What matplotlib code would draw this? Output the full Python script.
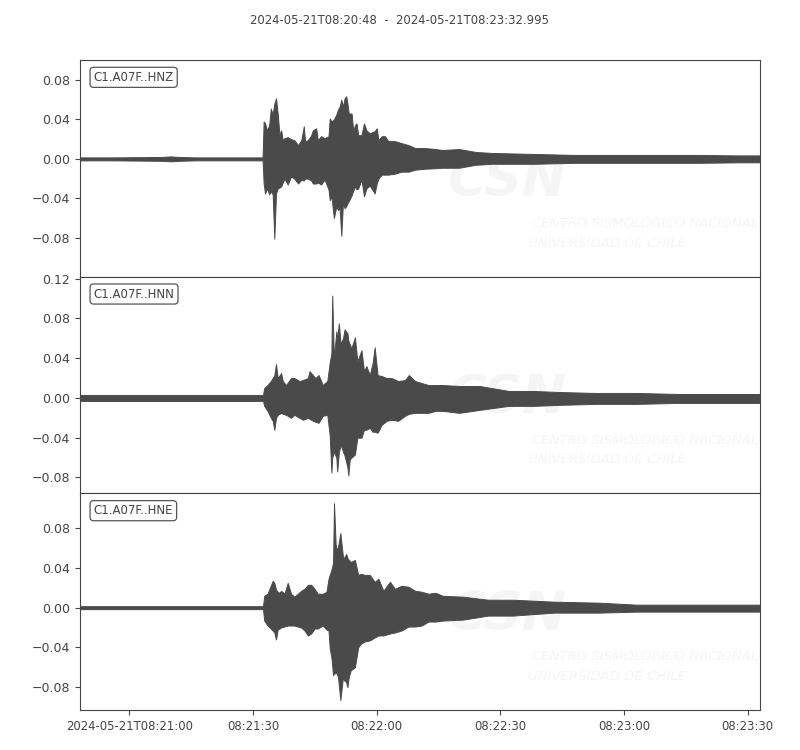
import matplotlib
matplotlib.use("Agg")
import matplotlib.pyplot as plt
import numpy as np

START = np.datetime64("2024-05-21T08:20:48.000")
TITLE = "2024-05-21T08:20:48  -  2024-05-21T08:23:32.995"

channels = ["C1.A07F..HNZ", "C1.A07F..HNN", "C1.A07F..HNE"]

# envelope of each trace (seconds after START, upper and lower peak values)
hnz_t = [0, 8, 16, 20, 22, 24, 28, 36, 44.3,
         44.56, 44.9, 45.4, 45.9, 46.3, 46.75, 47.15, 47.56, 47.97, 48.4,
         48.8, 49.2, 49.6, 50.4, 51.2, 52.0, 52.9, 53.7, 54.3, 54.6,
         55.3, 56.1, 56.5, 57.3, 57.7, 58.5, 59.35, 60.3, 60.6, 61.0,
         61.6, 62.2, 62.6, 63.0, 63.4, 63.8, 64.2, 64.6, 64.9, 65.2,
         65.9, 66.3, 66.7, 67.1, 67.5, 68.3, 68.9, 69.5, 70.3, 71.5,
         72.0, 72.4, 73.2, 74.0, 74.8, 76.4, 78.0, 79.7, 81.3, 83.7,
         86.2, 88, 92, 96, 100, 110, 120, 130, 140, 150,
         160, 164.995]
hnz_up = [0.0015, 0.0015, 0.0018, 0.002, 0.0025, 0.002, 0.0015, 0.0015, 0.0015,
          0.038, 0.036, 0.029, 0.034, 0.051, 0.045, 0.056, 0.0615, 0.046, 0.024,
          0.029, 0.019, 0.021, 0.022, 0.020, 0.019, 0.014, 0.019, 0.033, 0.018,
          0.019, 0.024, 0.029, 0.031, 0.019, 0.023, 0.021, 0.023, 0.041, 0.038,
          0.040, 0.045, 0.050, 0.053, 0.060, 0.053, 0.0615, 0.0635, 0.056, 0.046,
          0.046, 0.028, 0.034, 0.036, 0.024, 0.024, 0.036, 0.029, 0.026, 0.028,
          0.031, 0.019, 0.023, 0.023, 0.018, 0.018, 0.016, 0.014, 0.011, 0.011,
          0.010, 0.009, 0.010, 0.007, 0.006, 0.005, 0.004, 0.004, 0.004, 0.004,
          0.0035, 0.0035]
hnz_lo = [-0.0015, -0.0015, -0.0018, -0.002, -0.0025, -0.002, -0.0015, -0.0015, -0.0015,
          -0.025, -0.035, -0.030, -0.036, -0.033, -0.036, -0.081, -0.035, -0.030, -0.029,
          -0.028, -0.024, -0.020, -0.026, -0.018, -0.020, -0.025, -0.021, -0.022, -0.020,
          -0.020, -0.022, -0.025, -0.025, -0.024, -0.026, -0.021, -0.031, -0.042, -0.038,
          -0.060, -0.048, -0.052, -0.050, -0.078, -0.045, -0.050, -0.048, -0.045, -0.043,
          -0.037, -0.032, -0.028, -0.031, -0.030, -0.021, -0.038, -0.030, -0.027, -0.035,
          -0.025, -0.020, -0.016, -0.016, -0.016, -0.015, -0.013, -0.013, -0.011, -0.010,
          -0.0095, -0.009, -0.009, -0.006, -0.005, -0.005, -0.004, -0.004, -0.004, -0.004,
          -0.0035, -0.0035]

hnn_t = [0, 10, 20, 30, 40, 44.4,
         44.7, 45.5, 46.3, 46.75, 47.15, 47.56, 47.97, 48.8, 49.2, 50.0,
         51.2, 52.0, 53.25, 54.1, 55.3, 55.7, 56.5, 57.1, 57.9, 58.9,
         60.0, 60.57, 61.0, 61.2, 61.6, 62.2, 62.4, 62.8, 63.25, 63.8,
         64.2, 64.9, 65.1, 65.45, 65.85, 66.7, 67.3, 68.3, 68.9, 69.5,
         70.3, 71.0, 71.5, 72.2, 73.2, 74.4, 75.6, 77.2, 78.85, 79.8,
         81.3, 82.9, 84.55, 86.2, 88, 92, 97, 104, 110, 116,
         125, 135, 145, 155, 164.995]
hnn_up = [0.003, 0.003, 0.003, 0.003, 0.003, 0.003,
          0.010, 0.013, 0.017, 0.020, 0.023, 0.034, 0.020, 0.025, 0.017, 0.013,
          0.020, 0.020, 0.017, 0.018, 0.020, 0.027, 0.023, 0.020, 0.023, 0.013,
          0.017, 0.035, 0.045, 0.103, 0.040, 0.067, 0.060, 0.075, 0.054, 0.060,
          0.069, 0.065, 0.058, 0.054, 0.050, 0.061, 0.037, 0.048, 0.027, 0.032,
          0.023, 0.035, 0.051, 0.023, 0.022, 0.020, 0.020, 0.017, 0.018, 0.023,
          0.017, 0.015, 0.013, 0.013, 0.013, 0.012, 0.012, 0.007, 0.007, 0.006,
          0.005, 0.005, 0.004, 0.004, 0.004]
hnn_lo = [-0.003, -0.003, -0.003, -0.003, -0.003, -0.003,
          -0.008, -0.013, -0.020, -0.023, -0.032, -0.020, -0.017, -0.015, -0.016, -0.017,
          -0.020, -0.017, -0.020, -0.022, -0.020, -0.021, -0.023, -0.024, -0.025, -0.018,
          -0.017, -0.037, -0.075, -0.060, -0.054, -0.060, -0.074, -0.055, -0.047, -0.054,
          -0.058, -0.070, -0.078, -0.062, -0.060, -0.057, -0.040, -0.040, -0.032, -0.032,
          -0.030, -0.034, -0.034, -0.035, -0.027, -0.023, -0.022, -0.023, -0.018, -0.016,
          -0.015, -0.015, -0.015, -0.013, -0.013, -0.015, -0.012, -0.008, -0.008, -0.007,
          -0.006, -0.006, -0.005, -0.005, -0.005]

hne_t = [0, 10, 20, 30, 40, 44.4,
         44.7, 45.5, 46.75, 47.15, 47.56, 47.97, 48.4, 48.8, 49.6, 50.4,
         51.2, 52.0, 52.85, 53.66, 54.47, 55.3, 56.1, 56.9, 57.7, 58.9,
         59.8, 60.3, 60.6, 61.0, 61.4, 61.63, 62.03, 62.3, 62.6, 63.17,
         63.8, 64.07, 64.6, 64.88, 65.2, 65.7, 66.7, 67.5, 68.2, 69.1,
         70.3, 71.5, 72.4, 73.6, 75.2, 76.4, 78.0, 79.7, 81.3, 82.9,
         84.55, 86.2, 88, 93, 99, 105, 115, 126, 135, 145,
         155, 164.995]
hne_up = [0.0015, 0.0015, 0.0015, 0.0015, 0.0015, 0.0015,
          0.012, 0.014, 0.027, 0.025, 0.018, 0.016, 0.015, 0.017, 0.014, 0.025,
          0.014, 0.011, 0.014, 0.017, 0.019, 0.023, 0.023, 0.019, 0.014, 0.014,
          0.016, 0.029, 0.033, 0.038, 0.045, 0.105, 0.064, 0.058, 0.061, 0.075,
          0.051, 0.050, 0.054, 0.050, 0.048, 0.046, 0.048, 0.033, 0.034, 0.033,
          0.033, 0.026, 0.029, 0.017, 0.026, 0.019, 0.022, 0.021, 0.017, 0.016,
          0.014, 0.015, 0.012, 0.011, 0.008, 0.008, 0.006, 0.005, 0.003, 0.003,
          0.003, 0.003]
hne_lo = [-0.0015, -0.0015, -0.0015, -0.0015, -0.0015, -0.0015,
          -0.013, -0.018, -0.023, -0.025, -0.032, -0.022, -0.021, -0.020, -0.019, -0.018,
          -0.018, -0.018, -0.019, -0.020, -0.023, -0.028, -0.026, -0.021, -0.021, -0.018,
          -0.022, -0.023, -0.041, -0.050, -0.068, -0.066, -0.066, -0.066, -0.070, -0.093,
          -0.070, -0.073, -0.075, -0.080, -0.070, -0.063, -0.060, -0.040, -0.036, -0.034,
          -0.033, -0.030, -0.028, -0.028, -0.026, -0.025, -0.023, -0.019, -0.019, -0.018,
          -0.014, -0.014, -0.013, -0.012, -0.008, -0.008, -0.005, -0.005, -0.004, -0.004,
          -0.004, -0.004]

xtick_times = ["2024-05-21T08:21:00", "2024-05-21T08:21:30", "2024-05-21T08:22:00",
               "2024-05-21T08:22:30", "2024-05-21T08:23:00", "2024-05-21T08:23:30"]
xtick_labels = ["2024-05-21T08:21:00", "08:21:30", "08:22:00",
                "08:22:30", "08:23:00", "08:23:30"]
ytick_values = [-0.08, -0.04, 0.0, 0.04, 0.08, 0.12]
ytick_labels = ["\u22120.08", "\u22120.04", "0.00", "0.04", "0.08", "0.12"]

traces = [(hnz_t, hnz_up, hnz_lo), (hnn_t, hnn_up, hnn_lo), (hne_t, hne_up, hne_lo)]
ylims = [(-0.1195, 0.1003), (-0.096, 0.122), (-0.103, 0.115)]

TRACE = "#4a4a4a"
TEXT = "#444444"
WM = "#f5f5f5"

plt.rcParams["font.family"] = "DejaVu Sans"
plt.rcParams["text.color"] = TEXT
plt.rcParams["axes.edgecolor"] = "#444444"
plt.rcParams["xtick.color"] = "#444444"
plt.rcParams["ytick.color"] = "#444444"
plt.rcParams["xtick.labelcolor"] = TEXT
plt.rcParams["ytick.labelcolor"] = TEXT

fig, axes = plt.subplots(3, 1, figsize=(8, 7.5), dpi=100, sharex=True)
fig.subplots_adjust(left=0.1, right=0.95, bottom=0.0533, top=0.92, hspace=0)


def to_time(sec):
    return START + (np.asarray(sec) * 1000).astype("timedelta64[ms]")


for ax, name, (t, up, lo), yl in zip(axes, channels, traces, ylims):
    times = to_time(t)
    ax.fill_between(times, lo, up, color=TRACE, lw=0.7, zorder=3)

    # faint CSN watermark
    ax.text(0.628, 0.44, "CSN", transform=ax.transAxes, ha="center", va="center",
            fontsize=38, fontweight="bold", fontstyle="italic", color=WM, zorder=0)
    ax.text(0.665, 0.245, "CENTRO SISMOLÓGICO NACIONAL", transform=ax.transAxes,
            ha="left", va="center", fontsize=9.5, fontstyle="italic", color=WM, zorder=0)
    ax.text(0.659, 0.155, "UNIVERSIDAD DE CHILE", transform=ax.transAxes,
            ha="left", va="center", fontsize=9.5, fontstyle="italic", color=WM, zorder=0)

    ax.text(0.02, 0.95, name, transform=ax.transAxes, ha="left", va="top",
            fontsize=8.5, color=TEXT, zorder=5,
            bbox=dict(boxstyle="round,pad=0.3", fc="white", ec="#555555", lw=0.9))

    ax.set_yticks(ytick_values)
    ax.set_yticklabels(ytick_labels)
    ax.tick_params(axis="y", labelsize=9)
    ax.set_ylim(*yl)
    ax.set_xlim(to_time(0), to_time(164.995))

for ax in axes[:-1]:
    ax.tick_params(axis="x", length=0, labelbottom=False)

axes[-1].set_xticks(np.array(xtick_times, dtype="datetime64[ms]"))
axes[-1].set_xticklabels(xtick_labels)
axes[-1].tick_params(axis="x", labelsize=8.4)
axes[-1].set_xlim(to_time(0), to_time(164.995))

fig.text(0.5, 0.973, TITLE, ha="center", va="center", fontsize=8.4, color=TEXT)

fig.savefig("out.png", dpi=100)
